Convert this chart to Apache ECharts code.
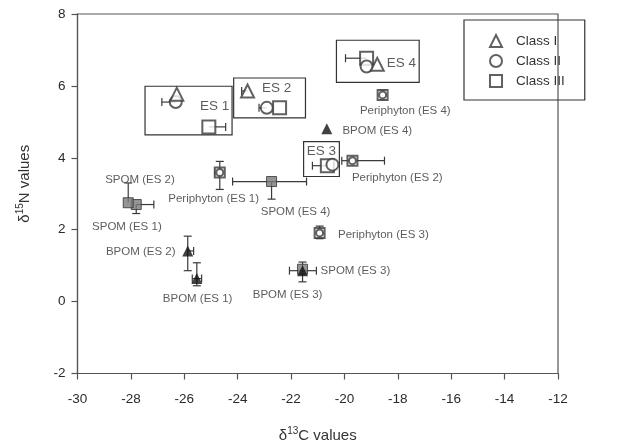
<!DOCTYPE html>
<html><head><meta charset="utf-8">
<script src="https://cdn.jsdelivr.net/npm/echarts@6/dist/echarts.min.js"></script>
<style>html,body{margin:0;padding:0;background:#fff}#c{width:622px;height:448px}</style>
</head><body><div id="c"></div>
<script>
// [x, y, xLo, xHi, yLo, yHi]  (null = no whisker)
const classI = [
  [-26.28, 5.77, null, null, null, null],
  [-23.63, 5.86, -23.85, null, null, null],
  [-18.77, 6.60, null, null, null, null]
];
const classII = [
  [-26.32, 5.55, -26.84, null, null, null],
  [-22.91, 5.39, -23.20, null, null, null],
  [-20.45, 3.81, null, null, null, null],
  [-19.17, 6.54, null, null, null, null]
];
const classIII = [
  [-25.08, 4.86, null, -24.45, null, null],
  [-22.43, 5.39, null, null, null, null],
  [-20.64, 3.78, -21.20, null, null, null],
  [-19.17, 6.77, -19.96, null, null, null]
];
const bpom = [
  [-25.53, 0.64, -25.70, -25.35, 0.44, 1.08],
  [-25.87, 1.41, null, -25.65, 0.86, 1.82],
  [-21.57, 0.86, -22.06, -21.05, 0.55, 1.10],
  [-20.66, 4.81, null, null, null, null]
];
const spom = [
  [-27.80, 2.70, null, -27.14, 2.45, null],
  [-28.10, 2.75, null, null, null, 3.30],
  [-21.57, 0.90, null, null, null, null],
  [-22.73, 3.34, -24.19, -21.42, 2.85, null]
];
const periphyton = [
  [-24.67, 3.59, -24.85, null, 3.12, 3.90],
  [-19.70, 3.92, -20.10, -18.50, null, null],
  [-20.93, 1.91, null, null, 1.75, 2.10],
  [-18.57, 5.75, null, null, 5.62, 5.88]
];
// point labels: [x, y, text]
const pointLabels = [
  [-27.66, 3.40, 'SPOM (ES 2)'],
  [-28.15, 2.07, 'SPOM (ES 1)'],
  [-24.90, 2.87, 'Periphyton (ES 1)'],
  [-21.83, 2.51, 'SPOM (ES 4)'],
  [-18.02, 3.45, 'Periphyton (ES 2)'],
  [-18.54, 1.85, 'Periphyton (ES 3)'],
  [-18.77, 4.75, 'BPOM (ES 4)'],
  [-17.72, 5.30, 'Periphyton (ES 4)'],
  [-27.63, 1.38, 'BPOM (ES 2)'],
  [-25.50, 0.08, 'BPOM (ES 1)'],
  [-22.13, 0.19, 'BPOM (ES 3)'],
  [-19.59, 0.86, 'SPOM (ES 3)']
];
const groupLabels = [
  [-24.86, 5.44, 'ES 1'],
  [-22.54, 5.94, 'ES 2'],
  [-20.86, 4.17, 'ES 3'],
  [-17.87, 6.63, 'ES 4']
];
// group boxes: [x1, y1, x2, y2]
const groupBoxes = [
  [-27.47, 5.99, -24.21, 4.64],
  [-24.15, 6.22, -21.46, 5.11],
  [-21.53, 4.45, -20.19, 3.48],
  [-20.30, 7.27, -17.20, 6.10]
];
const xTicks = {min: -30, max: -12, step: 2};
const yTicks = {min: -2, max: 8, step: 2};

const FONT = 'Liberation Sans, Arial, sans-serif';
const LINE = '#3a3a3a';
const allErr = [].concat(classI, classII, classIII, bpom, spom, periphyton);

function errRender(params, api) {
  const d = allErr[params.dataIndex];
  const c = api.coord([d[0], d[1]]);
  const cap = 4;
  const kids = [];
  const st = {stroke: LINE, lineWidth: 1.2};
  function hseg(v) {
    const p = api.coord([v, d[1]]);
    kids.push({type: 'line', shape: {x1: c[0], y1: c[1], x2: p[0], y2: p[1]}, style: st});
    kids.push({type: 'line', shape: {x1: p[0], y1: p[1] - cap, x2: p[0], y2: p[1] + cap}, style: st});
  }
  function vseg(v) {
    const p = api.coord([d[0], v]);
    kids.push({type: 'line', shape: {x1: c[0], y1: c[1], x2: p[0], y2: p[1]}, style: st});
    kids.push({type: 'line', shape: {x1: p[0] - cap, y1: p[1], x2: p[0] + cap, y2: p[1]}, style: st});
  }
  if (d[2] != null) hseg(d[2]);
  if (d[3] != null) hseg(d[3]);
  if (d[4] != null) vseg(d[4]);
  if (d[5] != null) vseg(d[5]);
  return {type: 'group', children: kids};
}

const xy = a => a.map(r => [r[0], r[1]]);
const chart = echarts.init(document.getElementById('c'), null, {renderer: 'canvas'});
chart.setOption({
  animation: false,
  backgroundColor: '#fff',
  textStyle: {fontFamily: FONT},
  grid: {left: 77.5, right: 64, top: 14, bottom: 72, show: true, borderColor: '#555', borderWidth: 1.2, backgroundColor: 'transparent'},
  legend: {
    left: 464, top: 20, orient: 'vertical',
    data: ['Class I', 'Class II', 'Class III'],
    borderColor: '#333', borderWidth: 1.2,
    padding: [14, 20, 12, 25], itemGap: 6, itemWidth: 12, itemHeight: 12,
    textStyle: {fontSize: 13.5, color: '#333', fontFamily: FONT, padding: [0, 0, 0, 9]}
  },
  xAxis: {
    type: 'value', min: xTicks.min, max: xTicks.max, interval: xTicks.step,
    name: '{d|δ}{s|13}{d|C values}', nameLocation: 'middle', nameGap: 53,
    nameTextStyle: {rich: {d: {fontSize: 15, color: '#333', fontFamily: FONT, lineHeight: 18}, s: {fontSize: 10, color: '#333', fontFamily: FONT, verticalAlign: 'top', lineHeight: 18, padding: [0, 0, 6, 0]}}},
    axisLine: {onZero: false, lineStyle: {color: '#555', width: 1.2}},
    axisTick: {show: true, length: 6, inside: false, lineStyle: {color: '#555', width: 1.2}},
    axisLabel: {fontSize: 13.5, color: '#2a2a2a', margin: 19, fontFamily: FONT},
    splitLine: {show: false}
  },
  yAxis: {
    type: 'value', min: yTicks.min, max: yTicks.max, interval: yTicks.step,
    name: '{d|δ}{s|15}{d|N values}', nameLocation: 'middle', nameGap: 44, nameRotate: 90,
    nameTextStyle: {padding: [0, 0, 0, 20], rich: {d: {fontSize: 15, color: '#333', fontFamily: FONT, lineHeight: 18}, s: {fontSize: 10, color: '#333', fontFamily: FONT, verticalAlign: 'top', lineHeight: 18, padding: [0, 0, 6, 0]}}},
    axisLine: {onZero: false, lineStyle: {color: '#555', width: 1.2}},
    axisTick: {show: true, length: 6, inside: false, lineStyle: {color: '#555', width: 1.2}},
    axisLabel: {fontSize: 13.5, color: '#2a2a2a', margin: 12, fontFamily: FONT},
    splitLine: {show: false}
  },
  series: [
    {
      type: 'scatter', name: 'labels', symbolSize: 0, z: 1, silent: true,
      data: pointLabels.map(r => ({value: [r[0], r[1]], name: r[2]})),
      label: {show: true, position: 'inside', formatter: p => p.name, fontSize: 11.5, color: '#333', fontFamily: FONT},
      markArea: {
        silent: true,
        itemStyle: {color: 'rgba(0,0,0,0)', borderColor: '#333', borderWidth: 1.2},
        data: groupBoxes.map(b => [{coord: [b[0], b[1]]}, {coord: [b[2], b[3]]}])
      }
    },
    {
      type: 'scatter', name: 'groups', symbolSize: 0, z: 1, silent: true,
      data: groupLabels.map(r => ({value: [r[0], r[1]], name: r[2]})),
      label: {show: true, position: 'inside', formatter: p => p.name, fontSize: 13.5, color: '#333', fontFamily: FONT}
    },
    {
      type: 'custom', name: 'err', z: 2, silent: true,
      renderItem: errRender,
      encode: {x: 0, y: 1},
      data: xy(allErr)
    },
    {type: 'scatter', name: 'periphyton sq', z: 3, symbol: 'emptyRect', symbolSize: 10, itemStyle: {color: LINE, borderWidth: 1.2}, data: xy(periphyton)},
    {type: 'scatter', name: 'periphyton ci', z: 4, symbol: 'emptyCircle', symbolSize: 7, itemStyle: {color: LINE, borderWidth: 1.2}, data: xy(periphyton)},
    {type: 'scatter', name: 'SPOM', z: 3, symbol: 'rect', symbolSize: 10, itemStyle: {color: '#7a7a7a', borderColor: '#333', borderWidth: 1}, data: xy(spom)},
    {type: 'scatter', name: 'BPOM', z: 4, symbol: 'triangle', symbolSize: 11, itemStyle: {color: '#111'}, data: xy(bpom)},
    {type: 'scatter', name: 'Class III', z: 3, symbol: 'emptyRect', symbolSize: 13, itemStyle: {color: LINE, borderWidth: 1.3}, data: xy(classIII)},
    {type: 'scatter', name: 'Class II', z: 4, symbol: 'emptyCircle', symbolSize: 12, itemStyle: {color: LINE, borderWidth: 1.3}, data: xy(classII)},
    {type: 'scatter', name: 'Class I', z: 5, symbol: 'emptyTriangle', symbolSize: 13, itemStyle: {color: LINE, borderWidth: 1.3}, data: xy(classI)}
  ]
});
</script></body></html>
